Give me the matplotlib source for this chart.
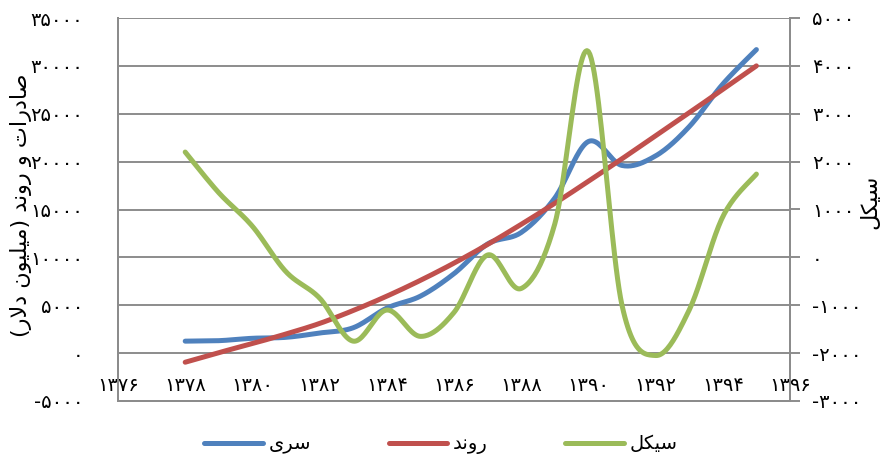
import numpy as np
import matplotlib.pyplot as plt

# داده ها (سال های شمسی)
years = [1378, 1379, 1380, 1381, 1382, 1383, 1384, 1385, 1386,
         1387, 1388, 1389, 1390, 1391, 1392, 1393, 1394, 1395]
series = [1250, 1300, 1550, 1650, 2100, 2650, 4700, 5950, 8300,
          11400, 12600, 16200, 22100, 19600, 20600, 23650, 28100, 31700]
trend = [-950, 50, 1000, 2000, 3100, 4450, 5950, 7600, 9400,
         11350, 13450, 15650, 17950, 20300, 22700, 25100, 27550, 30000]
cycle = [2200, 1350, 650, -300, -850, -1750, -1100, -1650, -1150,
         50, -650, 700, 4300, -1000, -2050, -1100, 850, 1740]

left_ticks = [-5000, 0, 5000, 10000, 15000, 20000, 25000, 30000, 35000]
right_ticks = [-3000, -2000, -1000, 0, 1000, 2000, 3000, 4000, 5000]
x_ticks = [1376, 1378, 1380, 1382, 1384, 1386, 1388, 1390, 1392, 1394, 1396]

# متن ها به شکل نمایشی (حروف چسبیده، ترتیب چپ به راست)
lbl_series = "\uFEEF\uFEAE\uFEB3"          # سری
lbl_trend = "\uFEAA\uFEE7\uFEED\uFEAD"      # روند
lbl_cycle = "\uFEDE\uFB91\uFEF4\uFEB3"      # سیکل
lbl_left = "(\uFEAD\uFEFB\uFEA9 \uFEE5\uFEEE\uFEF4\uFEE0\uFEF4\uFEE3) \uFEAA\uFEE7\uFEED\uFEAD \uFEED \uFE95\uFE8D\uFEAD\uFEA9\uFE8E\uFEBB"

fa_digits = str.maketrans("0123456789", "۰۱۲۳۴۵۶۷۸۹")


def fa(v):
    return str(v).translate(fa_digits)


def smooth(x, y, n=24):
    # مثل خط صاف اکسل (بزیه با نقاط کنترل 1/6)
    x = np.asarray(x, float)
    y = np.asarray(y, float)
    px = np.concatenate([[x[0]], x, [x[-1]]])
    py = np.concatenate([[y[0]], y, [y[-1]]])
    t = np.linspace(0, 1, n)[:, None]
    out = []
    for i in range(len(x) - 1):
        p0 = np.array([px[i + 1], py[i + 1]])
        p3 = np.array([px[i + 2], py[i + 2]])
        c1 = p0 + (p3 - np.array([px[i], py[i]])) / 6
        c2 = p3 - (np.array([px[i + 3], py[i + 3]]) - p0) / 6
        b = (1 - t) ** 3 * p0 + 3 * (1 - t) ** 2 * t * c1 + 3 * (1 - t) * t ** 2 * c2 + t ** 3 * p3
        out.append(b if i == 0 else b[1:])
    out = np.vstack(out)
    return out[:, 0], out[:, 1]


plt.rcParams['font.family'] = ['DejaVu Sans']
grid_c = '#8c8c8c'

fig = plt.figure(figsize=(8.82, 4.63), dpi=100)
ax = fig.add_axes([118 / 882, 1 - 401 / 463, 672 / 882, 383 / 463])
ax2 = ax.twinx()

lw = 3.6
sx, sy = smooth(years, series)
l1, = ax.plot(sx, sy, color='#4F81BD', lw=lw, solid_capstyle='round', label=lbl_series)
tx, ty = smooth(years, trend)
l2, = ax.plot(tx, ty, color='#C0504D', lw=lw, solid_capstyle='round', label=lbl_trend)
cx, cy = smooth(years, cycle)
l3, = ax2.plot(cx, cy, color='#9BBB59', lw=lw, solid_capstyle='round', label=lbl_cycle)

ax.set_xlim(1376, 1396)
ax.set_ylim(-5000, 35000)
ax2.set_ylim(-3000, 5000)

fs = 14
ax.set_yticks(left_ticks)
ax.set_yticklabels([fa(v) for v in left_ticks], fontsize=fs)
ax2.set_yticks(right_ticks)
ax2.set_yticklabels([fa(v) for v in right_ticks], fontsize=fs)
ax.set_xticks(x_ticks)
ax.set_xticklabels([fa(v) for v in x_ticks], fontsize=fs)

ax.grid(axis='y', color=grid_c, lw=1.4)
ax.set_axisbelow(True)

for a in (ax, ax2):
    for s in a.spines.values():
        s.set_color(grid_c)
        s.set_linewidth(1.4)
    a.spines['top'].set_visible(False)

ax.tick_params(axis='y', length=0, pad=25)
ax.tick_params(axis='x', length=0, pad=-18)
ax2.tick_params(axis='y', length=7, width=1.4, color=grid_c, pad=9)

ax.set_ylabel(lbl_left, fontsize=16)
ax.yaxis.set_label_coords(-0.128, 0.51)
ax2.set_ylabel(lbl_cycle, fontsize=16)
ax2.yaxis.set_label_coords(1.104, 0.52)

fig.legend(handles=[l1, l2, l3], loc='center', bbox_to_anchor=(0.5, 0.04), ncol=3,
           frameon=False, fontsize=14, handlelength=3.0, handletextpad=0.3, columnspacing=4.0)

plt.savefig('out.png', dpi=100)
